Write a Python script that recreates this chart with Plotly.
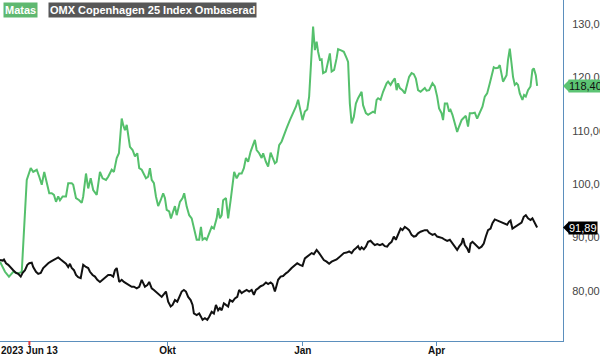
import pandas as pd
import plotly.graph_objects as go

# ---------------- data ----------------
start_date = "2023-06-09"          # first trading day shown
end_date = "2024-06-26"            # right edge of the time axis
event_date = "2023-06-29"          # red marker tick

# day offsets from start_date, and values
matas_day = [0.0, 3.4, 6.1, 9.0, 12.4, 14.8, 18.2, 20.9, 22.6, 25.0, 26.7, 28.4, 30.1, 31.8, 33.5, 35.2,
             36.7, 38.1, 39.6, 40.8, 42.6, 44.9, 46.4, 48.8, 49.8, 51.7, 53.9, 55.6, 56.6, 58.5, 60.0, 61.7,
             63.4, 65.8, 68.0, 69.8, 72.1, 73.6, 76.0, 77.5, 79.4, 80.9, 82.8, 83.8, 85.0, 86.2, 88.4, 90.2,
             91.8, 93.4, 94.7, 96.4, 97.9, 99.3, 100.8, 102.0, 103.2, 104.7, 106.1, 107.6, 109.3, 111.0,
             112.2, 113.4, 115.1, 116.3, 117.8, 119.0, 120.2, 121.2, 122.4, 124.2, 125.3, 127.0, 128.7,
             130.4, 131.4, 132.6, 133.8, 135.5, 136.7, 137.8, 139.4, 140.6, 142.3, 144.0, 145.5, 147.4,
             148.4, 149.6, 150.8, 151.8, 153.7, 155.2, 156.9, 158.2, 159.3, 161.0, 162.7, 164.4, 165.9,
             167.3, 168.8, 170.5, 171.8, 173.4, 174.6, 176.3, 178.0, 179.0, 180.9, 182.4, 184.1, 185.4,
             187.0, 188.2, 189.9, 191.6, 193.1, 195.0, 197.2, 199.4, 201.3, 202.8, 204.5, 205.8, 207.4,
             209.0, 210.3, 211.5, 212.2, 213.0, 214.2, 215.4, 216.4, 217.6, 218.8, 219.8, 221.7, 223.2,
             224.4, 225.6, 227.3, 229.0, 230.0, 232.4, 233.9, 235.8, 236.8, 238.0, 239.2, 240.7, 242.1,
             243.6, 246.0, 247.0, 248.9, 250.4, 252.1, 253.8, 255.0, 256.2, 257.2, 258.9, 260.6, 263.0,
             264.0, 265.7, 267.0, 268.6, 269.8, 270.8, 272.0, 273.8, 275.4, 277.0, 278.3, 280.0, 281.5,
             282.9, 284.4, 286.1, 287.4, 289.0, 290.2, 291.9, 294.2, 295.8, 297.4, 298.7, 300.4, 301.4,
             302.6, 304.2, 305.5, 306.5, 307.8, 309.4, 311.0, 312.3, 314.0, 315.0, 316.9, 318.4, 319.6,
             321.4, 323.0, 324.6, 326.4, 328.2, 329.8, 331.4, 333.2, 335.0, 335.9, 337.3, 338.8, 340.0,
             341.2, 342.2, 343.4, 344.6, 345.6, 346.8, 348.0, 349.0, 350.2, 351.4, 352.4, 353.6, 355.4,
             356.5, 357.7, 359.2, 360.9, 362.2, 363.1, 364.5, 365.4]
matas_val = [85.5, 83.6, 82.7, 83.6, 83.3, 83.6, 100.8, 103.0, 102.3, 102.7, 101.4, 99.9, 102.3, 100.2, 98.3, 98.3,
             98.0, 96.7, 97.7, 97.0, 97.7, 97.7, 100.2, 100.2, 99.9, 97.4, 97.0, 96.5, 97.7, 102.0, 99.2, 101.1,
             98.9, 98.0, 102.3, 101.1, 100.8, 101.4, 102.7, 102.3, 104.9, 105.8, 112.3, 111.1, 110.1, 111.1, 107.0, 106.4,
             105.2, 105.8, 103.0, 102.7, 101.7, 101.1, 101.4, 103.0, 100.8, 100.2, 97.7, 95.9, 97.0, 98.3,
             97.4, 95.2, 94.9, 93.6, 94.9, 95.9, 94.2, 95.2, 96.7, 97.4, 98.3, 95.8, 94.2,
             93.6, 92.4, 91.4, 89.6, 89.6, 92.0, 89.6, 89.9, 89.6, 90.8, 92.0, 91.7, 93.6,
             95.5, 93.6, 94.2, 97.0, 97.4, 93.6, 97.0, 99.9, 102.3, 101.1, 102.0, 102.0, 103.0,
             104.9, 104.2, 106.1, 107.3, 108.3, 106.4, 105.8, 104.9, 105.8, 104.2, 103.3, 105.9, 104.9,
             103.9, 104.2, 107.3, 108.0, 109.2, 110.5, 112.0, 113.3, 114.5, 115.8, 113.9, 112.0, 113.6,
             114.0, 116.4, 122.6, 126.4, 129.5, 125.1, 126.7, 124.8, 123.3, 123.4, 120.8, 121.1, 123.3,
             124.5, 121.1, 121.4, 123.6, 125.3, 125.0, 124.8, 123.6, 122.9, 115.1, 111.4, 112.6, 115.1,
             116.1, 117.3, 114.8, 113.3, 113.0, 113.3, 113.6, 113.4, 115.8, 116.1, 115.8, 117.3, 118.9,
             119.2, 118.6, 119.2, 119.8, 117.6, 118.9, 118.0, 117.6, 117.0, 118.9, 120.1, 120.8, 120.6,
             119.8, 117.6, 117.3, 117.6, 118.0, 117.5, 117.6, 118.9, 118.3, 116.4, 114.2, 113.3, 112.0,
             115.1, 115.1, 113.6, 113.9, 113.0, 111.4, 109.8, 110.8, 112.0, 112.3, 112.8, 110.8, 113.3,
             113.3, 113.4, 112.3, 113.3, 114.5, 116.4, 117.0, 118.9, 120.8, 121.9, 121.7, 121.8, 122.3,
             120.8, 119.2, 119.8, 120.4, 123.3, 125.4, 122.6, 120.1, 118.6, 118.9, 118.6, 117.0, 115.8,
             116.7, 116.4, 117.6, 118.3, 121.4, 121.7, 120.4, 118.40]

omx_day = [0.0, 1.8, 2.7, 4.1, 5.6, 7.3, 9.0, 10.9, 12.4, 14.1, 15.4, 17.0, 18.6, 19.9, 21.6, 22.6,
           24.5, 26.0, 27.7, 29.4, 31.3, 32.8, 34.5, 36.2, 38.1, 39.6, 41.3, 43.0, 44.9, 46.4, 47.6, 48.8,
           50.3, 51.7, 53.2, 54.9, 56.6, 58.5, 60.0, 61.2, 63.0, 64.6, 66.2, 68.0, 69.8, 72.1, 73.6, 75.3,
           77.0, 78.2, 79.4, 81.1, 82.8, 84.3, 86.2, 87.9, 89.6, 91.1, 93.0, 94.7, 96.4, 98.6, 100.2,
           101.5, 103.2, 104.7, 106.6, 108.3, 110.0, 111.5, 112.9, 114.4, 116.1, 117.4, 119.0, 120.6,
           121.9, 123.6, 125.1, 126.5, 128.0, 129.7, 131.0, 131.9, 133.8, 135.5, 136.7, 137.8, 139.4,
           141.0, 142.3, 144.0, 145.5, 146.9, 148.4, 149.6, 150.8, 152.3, 153.7, 155.2, 156.4, 158.2,
           159.8, 161.4, 162.7, 164.4, 165.9, 167.8, 169.5, 171.2, 172.7, 174.1, 175.6, 177.3, 179.0,
           180.9, 182.4, 184.1, 185.4, 187.0, 188.2, 189.2, 190.9, 192.6, 194.5, 196.0, 198.4, 199.9,
           202.2, 204.0, 205.8, 207.4, 209.0, 210.3, 212.0, 213.5, 215.4, 217.1, 218.8, 220.3, 222.2,
           223.9, 225.6, 227.1, 229.0, 230.7, 232.4, 233.9, 235.8, 237.5, 239.2, 240.7, 242.1, 243.6,
           244.8, 246.0, 247.5, 248.9, 250.4, 252.1, 253.8, 255.0, 256.6, 258.4, 260.2, 261.8, 263.4,
           264.7, 266.4, 267.9, 269.3, 270.8, 272.5, 273.8, 275.4, 277.0, 278.3, 280.0, 281.5, 282.9,
           284.4, 286.1, 287.4, 289.0, 290.6, 291.9, 294.2, 295.8, 297.4, 299.2, 301.0, 302.6, 304.2,
           306.0, 307.8, 309.4, 311.0, 312.3, 314.0, 315.0, 316.2, 317.8, 319.1, 320.1, 321.4, 323.0,
           324.6, 325.9, 327.6, 329.1, 330.5, 332.0, 333.7, 335.0, 336.6, 338.2, 340.0, 341.8, 343.4,
           345.0, 346.3, 347.3, 348.6, 350.2, 351.8, 353.1, 354.8, 356.3, 357.7, 359.2, 360.9, 362.2,
           363.8, 365.4]
omx_val = [85.8, 85.7, 85.9, 85.2, 84.9, 84.3, 83.9, 83.4, 83.2, 82.7, 83.4, 83.9, 84.9, 85.2, 85.3, 84.5,
           83.6, 83.2, 83.4, 84.3, 84.9, 85.2, 85.5, 85.8, 86.1, 86.3, 85.9, 85.5, 85.1, 84.5, 85.1, 84.3,
           83.9, 83.0, 82.6, 82.4, 84.9, 84.5, 84.3, 83.6, 83.0, 82.7, 82.1, 81.7, 82.1, 82.7, 83.0, 83.0,
           82.7, 83.9, 84.3, 81.7, 82.1, 81.7, 81.4, 81.1, 80.8, 80.8, 80.5, 80.8, 82.1, 80.8, 81.1,
           81.7, 80.5, 80.2, 79.7, 79.3, 78.9, 79.4, 79.9, 78.0, 77.1, 77.4, 78.3, 78.0,
           78.9, 79.9, 80.2, 79.9, 78.9, 78.3, 77.4, 75.8, 75.5, 75.8, 75.2, 74.6, 74.9,
           74.6, 75.2, 76.1, 75.8, 77.4, 76.4, 76.8, 76.4, 77.7, 77.4, 77.1, 78.3, 78.0,
           78.6, 78.9, 80.2, 79.6, 79.9, 80.2, 79.9, 80.2, 79.3, 80.2, 80.5, 80.9, 81.1,
           81.6, 81.3, 81.6, 81.3, 79.9, 81.1, 82.1, 82.7, 82.8, 83.3, 83.6, 84.3, 84.7,
           85.2, 84.9, 84.7, 86.1, 86.4, 86.7, 87.1, 86.9, 87.7, 87.1, 86.4, 85.8, 85.5,
           85.1, 85.5, 85.7, 85.9, 86.3, 86.7, 87.1, 87.2, 87.4, 87.1, 87.7, 88.0, 88.4,
           87.7, 88.2, 87.8, 88.3, 89.2, 89.4, 88.9, 88.6, 88.8, 88.6, 88.8, 88.4, 88.3,
           88.8, 89.2, 90.2, 89.6, 90.5, 91.7, 91.4, 92.0, 91.7, 91.4, 90.5, 90.2, 90.3,
           90.8, 91.1, 91.3, 91.4, 91.4, 90.9, 90.5, 90.7, 90.2, 90.1, 89.9, 89.6, 89.4,
           89.6, 88.9, 88.2, 87.7, 88.3, 88.9, 89.9, 88.6, 88.0, 87.2, 88.9, 89.2, 88.8,
           88.3, 88.0, 88.3, 88.9, 90.2, 91.4, 91.7, 92.7, 93.4, 93.2, 93.0, 92.8, 92.7,
           92.4, 93.0, 93.2, 91.7, 92.0, 92.4, 92.5, 92.8, 93.9, 94.2, 93.6, 93.3, 93.6,
           92.7, 91.89]

tick_dates = [event_date, "2023-10-01", "2024-01-01", "2024-04-01"]
tick_text = ["2023 Jun 13", "Okt", "Jan", "Apr"]
y_ticks = [80, 90, 100, 110, 120, 130]
y_range = [70.64, 134.49]

series_names = ["Matas", "OMX Copenhagen 25 Index Ombaserad"]

# ---------------- styling ----------------
GREEN = "#55c06c"
GREEN_TAG = "#5cc474"
BLACK = "#111111"
FRAME = "#5b8fbd"
FONT = "Liberation Sans, Arial, sans-serif"

t0 = pd.Timestamp(start_date)
matas_x = t0 + pd.to_timedelta(matas_day, unit="D")
omx_x = t0 + pd.to_timedelta(omx_day, unit="D")

fig = go.Figure()
fig.add_trace(go.Scatter(x=matas_x, y=matas_val, mode="lines", name=series_names[0],
                         line=dict(color=GREEN, width=2), hoverinfo="skip"))
fig.add_trace(go.Scatter(x=omx_x, y=omx_val, mode="lines", name=series_names[1],
                         line=dict(color=BLACK, width=2), hoverinfo="skip"))

fig.update_layout(
    width=600, height=356,
    margin=dict(l=0, r=37, t=0, b=15),
    paper_bgcolor="white", plot_bgcolor="white",
    showlegend=False,
    separators=", ",
    font=dict(family=FONT, size=11, color="#333333"),
)
fig.update_xaxes(
    type="date", range=[start_date, end_date],
    tickvals=tick_dates, ticktext=tick_text,
    ticks="outside", ticklen=4, tickwidth=1, tickcolor=FRAME,
    ticklabelstandoff=-4, ticklabeloverflow="allow",
    showline=True, linecolor=FRAME, linewidth=1,
    showgrid=False, zeroline=False, automargin=False,
    tickfont=dict(family=FONT, size=10, color="#111111", weight="bold"),
)
fig.update_yaxes(
    side="right", range=y_range, tickvals=y_ticks, tickformat=".2f",
    ticks="", ticklabelstandoff=6, ticklabeloverflow="allow",
    showline=True, linecolor=FRAME, linewidth=1,
    showgrid=False, zeroline=False, automargin=False,
    tickfont=dict(family=FONT, size=11, color="#444444"),
)

# red event tick
fig.add_shape(type="line", xref="x", yref="paper", x0=event_date, x1=event_date,
              y0=0, y1=-0.012, line=dict(color="#e0393e", width=2))

# legend boxes
fig.add_annotation(xref="paper", yref="paper", x=0, y=1, xanchor="left", yanchor="top",
                   xshift=3, yshift=-2, text=series_names[0], showarrow=False,
                   bgcolor="#5fb870", borderpad=1,
                   font=dict(family=FONT, size=11, color="white", weight="bold"))
fig.add_annotation(xref="paper", yref="paper", x=0, y=1, xanchor="left", yanchor="top",
                   xshift=48, yshift=-2, text=series_names[1], showarrow=False,
                   bgcolor="#575757", borderpad=1,
                   font=dict(family=FONT, size=11, color="white", weight="bold"))

# last value tags
def add_tag(val, bg, fg):
    fig.add_annotation(xref="paper", yref="y", x=1, y=val, xanchor="left", yanchor="middle",
                       xshift=5, text=f"{val:.2f}".replace(".", ","), showarrow=False,
                       bgcolor=bg, borderpad=0,
                       font=dict(family=FONT, size=11, color=fg))
    dv = 6 / (341 / (y_range[1] - y_range[0]))
    dx = 6 / 563
    fig.add_shape(type="path", xref="paper", yref="y", layer="above",
                  path=f"M 1.0,{val} L {1 + dx},{val + dv} L {1 + dx},{val - dv} Z",
                  fillcolor=bg, line=dict(width=0))

add_tag(matas_val[-1], GREEN_TAG, "#111111")
add_tag(omx_val[-1], "#000000", "white")

fig.write_html("out.html", config={"displayModeBar": False},
               post_script="document.body.style.margin='0';")
